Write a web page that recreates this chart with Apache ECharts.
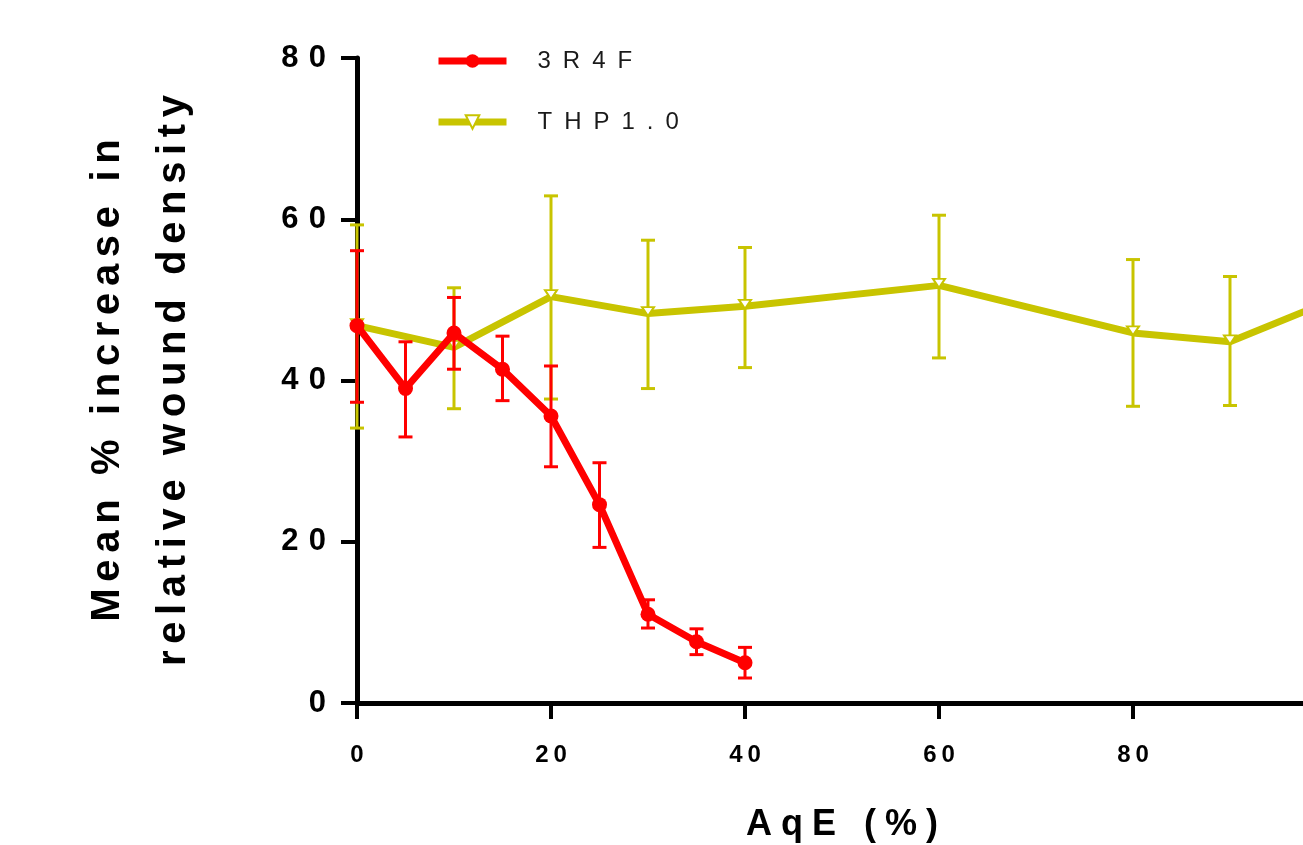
<!DOCTYPE html>
<html>
<head>
<meta charset="utf-8">
<script src="https://cdn.jsdelivr.net/npm/echarts@6/dist/echarts.min.js"></script>
<style>
html,body{margin:0;padding:0;background:#fff;overflow:hidden;}
#chart{width:1303px;height:845px;}
</style>
</head>
<body>
<div id="chart"></div>
<script>
// ---- data ----
const xTicks = [0, 20, 40, 60, 80, 100];
const yTicks = [0, 20, 40, 60, 80];

const r3R4F_x     = [0, 5, 10, 15, 20, 25, 30, 35, 40];
const r3R4F_mean  = [46.8, 39.0, 45.9, 41.4, 35.6, 24.6, 11.0, 7.6, 5.0];
const r3R4F_upper = [56.1, 44.8, 50.3, 45.5, 41.8, 29.8, 12.8, 9.2, 6.9];
const r3R4F_lower = [37.3, 33.0, 41.4, 37.5, 29.3, 19.3, 9.3, 6.0, 3.1];

const thp_x     = [0, 10, 20, 30, 40, 60, 80, 90, 100];
const thp_mean  = [46.8, 44.1, 50.4, 48.3, 49.2, 51.8, 45.9, 44.8, 49.7];
const thp_upper = [59.3, 51.5, 62.9, 57.4, 56.5, 60.5, 55.0, 52.9, null];
const thp_lower = [34.1, 36.5, 37.7, 39.0, 41.6, 42.8, 36.8, 36.9, null];

const seriesNames = ['3R4F', 'THP1.0'];
const xTitle = 'AqE (%)';
const yTitle1 = 'Mean % increase in';
const yTitle2 = 'relative wound density';

// ---- helpers ----
const RED = '#ff0000';
const YEL = '#c8c400';
const FONT = '"Liberation Sans", Arial, Helvetica, sans-serif';

function spaced(s, sep) { return Array.from(s).join(sep); }

function pairs(xs, ys) { return xs.map((x, i) => [x, ys[i]]); }
function errData(xs, lo, hi) {
  const out = [];
  xs.forEach((x, i) => { if (lo[i] != null && hi[i] != null) out.push([x, lo[i], hi[i]]); });
  return out;
}
function errRender(color) {
  return function (params, api) {
    const x = api.value(0), lo = api.value(1), hi = api.value(2);
    const pHi = api.coord([x, hi]);
    const pLo = api.coord([x, lo]);
    const w = 7;
    const st = { stroke: color, lineWidth: 3, fill: null };
    return {
      type: 'group',
      children: [
        { type: 'line', shape: { x1: pHi[0], y1: pHi[1], x2: pLo[0], y2: pLo[1] }, style: st },
        { type: 'line', shape: { x1: pHi[0] - w, y1: pHi[1], x2: pHi[0] + w, y2: pHi[1] }, style: st },
        { type: 'line', shape: { x1: pLo[0] - w, y1: pLo[1], x2: pLo[0] + w, y2: pLo[1] }, style: st }
      ]
    };
  };
}

const chart = echarts.init(document.getElementById('chart'), null, { renderer: 'canvas' });

const option = {
  backgroundColor: '#ffffff',
  animation: false,
  grid: { left: 357, width: 970, top: 58, height: 645, containLabel: false, outerBoundsMode: 'none' },
  legend: {
    orient: 'vertical',
    left: 430,
    top: 40,
    itemWidth: 68,
    itemHeight: 17,
    itemGap: 29,
    data: seriesNames,
    formatter: n => spaced(n, '\u2002'),
    lineStyle: { width: 7 },
    textStyle: { fontFamily: FONT, fontSize: 24, color: '#1a1a1a', lineHeight: 32, padding: [0, 0, 0, 26] }
  },
  xAxis: {
    type: 'value',
    min: 0, max: 100, interval: 20,
    name: spaced(xTitle, '\u2005'),
    nameLocation: 'middle',
    nameGap: 104,
    nameTextStyle: { fontFamily: FONT, fontSize: 36, fontWeight: 'bold', color: '#000' },
    axisLine: { show: true, onZero: false, lineStyle: { color: '#000', width: 5 } },
    axisTick: { show: true, length: 16, lineStyle: { color: '#000', width: 4 } },
    axisLabel: {
      margin: 40, fontFamily: FONT, fontSize: 24, fontWeight: 'bold', color: '#000',
      showMaxLabel: true,
      formatter: v => spaced(String(v), '\u2009')
    },
    splitLine: { show: false }
  },
  yAxis: {
    type: 'value',
    min: 0, max: 80, interval: 20,
    name: spaced(yTitle1, '\u2006') + '\n' + spaced(yTitle2, '\u2006'),
    nameLocation: 'middle',
    nameRotate: 90,
    nameGap: 150,
    nameTextStyle: { fontFamily: FONT, fontSize: 40, fontWeight: 'bold', color: '#000', lineHeight: 66, align: 'center' },
    axisLine: { show: true, onZero: false, lineStyle: { color: '#000', width: 5 } },
    axisTick: { show: true, length: 16, lineStyle: { color: '#000', width: 4 } },
    axisLabel: {
      margin: 31, fontFamily: FONT, fontSize: 31, fontWeight: 'bold', color: '#000',
      formatter: v => spaced(String(v), '\u2004')
    },
    splitLine: { show: false }
  },
  series: [
    {
      type: 'custom', name: 'thpErr', silent: true, z: 2,
      renderItem: errRender(YEL),
      data: errData(thp_x, thp_lower, thp_upper),
      encode: { x: 0, y: [1, 2] }
    },
    {
      type: 'line', name: seriesNames[1], z: 3,
      data: pairs(thp_x, thp_mean),
      color: YEL,
      lineStyle: { color: YEL, width: 7 },
      symbol: 'triangle', symbolRotate: 180, symbolSize: [12, 9], symbolOffset: [0, -2],
      showAllSymbol: true,
      itemStyle: { color: '#ffffff', borderColor: YEL, borderWidth: 2 }
    },
    {
      type: 'custom', name: 'redErr', silent: true, z: 4,
      renderItem: errRender(RED),
      data: errData(r3R4F_x, r3R4F_lower, r3R4F_upper),
      encode: { x: 0, y: [1, 2] }
    },
    {
      type: 'line', name: seriesNames[0], z: 5,
      data: pairs(r3R4F_x, r3R4F_mean),
      color: RED,
      lineStyle: { color: RED, width: 7 },
      symbol: 'circle', symbolSize: 15,
      showAllSymbol: true,
      itemStyle: { color: RED }
    }
  ]
};
chart.setOption(option);
</script>
</body>
</html>
